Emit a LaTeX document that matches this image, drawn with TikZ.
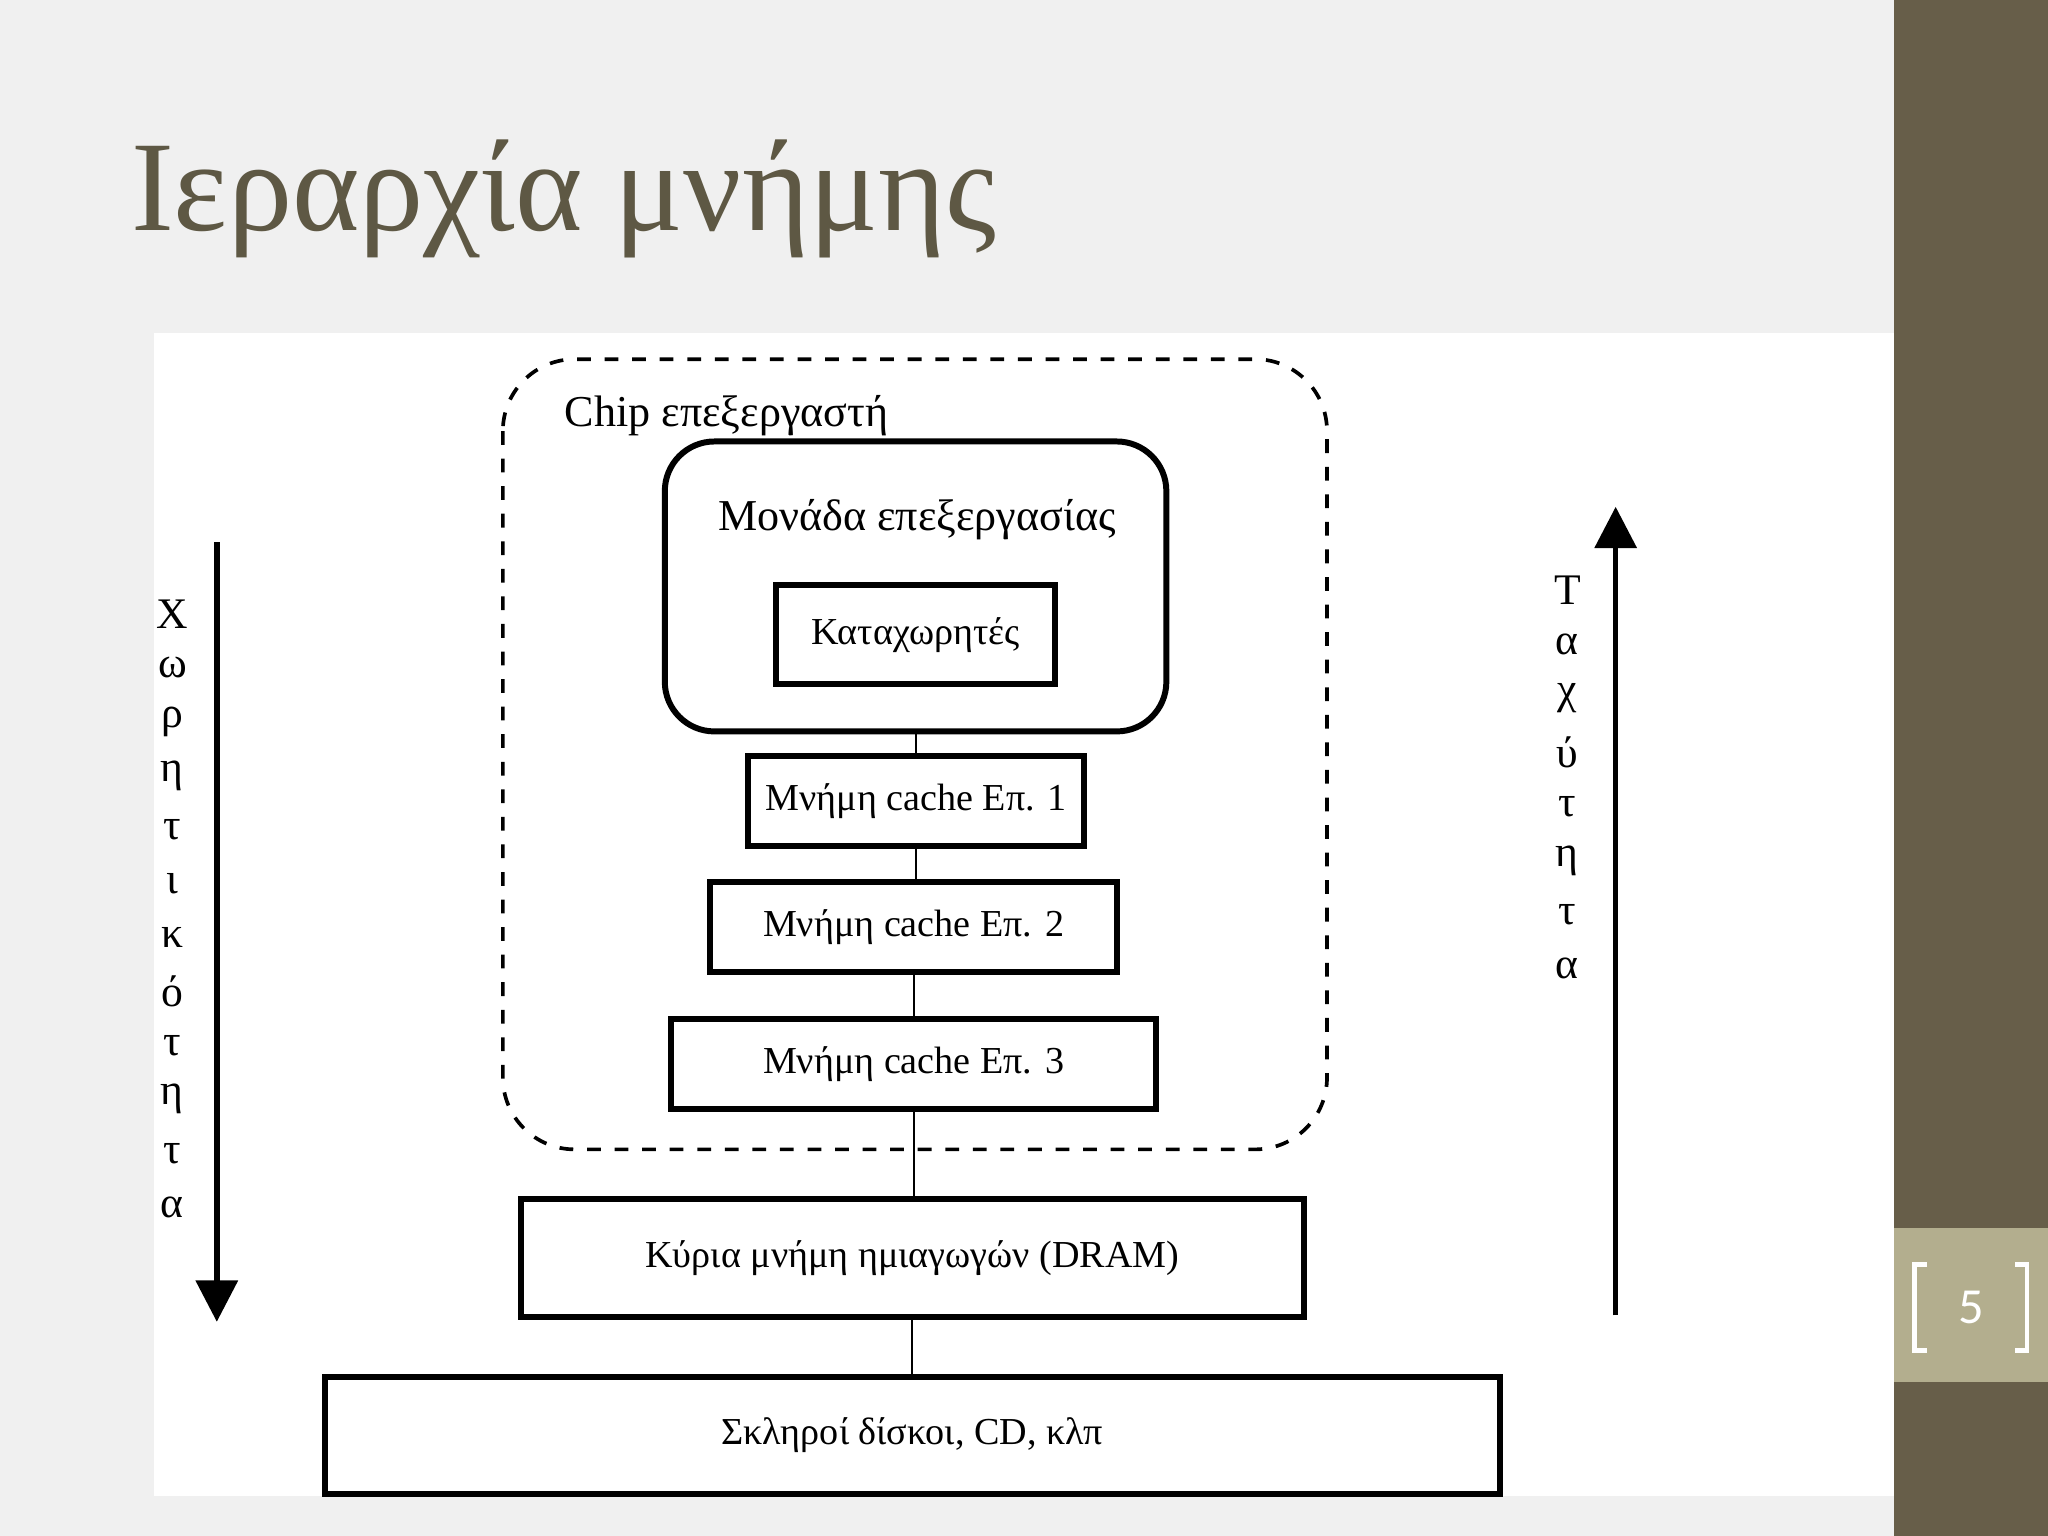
\documentclass[tikz,border=0pt]{standalone}
\usepackage{fontspec}
\setmainfont{Liberation Serif}
\newfontfamily\numfont{Carlito}
\usetikzlibrary{arrows.meta}
\definecolor{bar}{HTML}{675E49}
\definecolor{numbox}{HTML}{B3AE8E}
\definecolor{titlec}{HTML}{5E5844}
\begin{document}
\begin{tikzpicture}[x=0.01cm,y=-0.01cm,
  bx/.style={draw,line width=1.3pt,font=\fontsize{8.3}{10}\selectfont},
  lbl/.style={font=\fontsize{9.5}{11}\selectfont,anchor=center,inner sep=0pt}]
\useasboundingbox (0,0) rectangle (1568,1176);
\fill[gray!12] (0,0) rectangle (1450,1176);
\fill[white] (118,255) rectangle (1450,1145);
\fill[bar] (1450,0) rectangle (1568,1176);
\fill[numbox] (1450,940) rectangle (1568,1058);
\node[white,font=\numfont\fontsize{11}{13}\selectfont] (pn) at (1509,1001) {5};
\draw[white,line width=1pt] (1475,968) -- (1466,968) -- (1466,1034) -- (1475,1034);
\draw[white,line width=1pt] (1543,968) -- (1552,968) -- (1552,1034) -- (1543,1034);
\node[titlec,anchor=west,font=\fontsize{28}{33}\selectfont] (title) at (88,152) {Ιεραρχία μνήμης};
% chip
\draw[dashed,line width=0.8pt,rounded corners=0.55cm] (385,275) rectangle (1016,880);
\node[anchor=west,font=\fontsize{9.6}{12}\selectfont] (chip) at (420,318) {Chip επεξεργαστή};
\draw[line width=1.3pt,rounded corners=0.38cm] (509,338) rectangle (893,560);
\node[font=\fontsize{9.6}{12}\selectfont] (cpu) at (702,398) {Μονάδα επεξεργασίας};
\node[bx,minimum width=2.14cm,minimum height=0.76cm] (reg) at (701,486) {Καταχωρητές};
\node[bx,minimum width=2.57cm,minimum height=0.69cm] (c1) at (701.5,613.5) {Μνήμη cache Επ. 1};
\node[bx,minimum width=3.11cm,minimum height=0.69cm] (c2) at (699.5,709.5) {Μνήμη cache Επ. 2};
\node[bx,minimum width=3.71cm,minimum height=0.69cm] (c3) at (699.5,814.5) {Μνήμη cache Επ. 3};
\node[bx,minimum width=5.99cm,minimum height=0.90cm] (dram) at (698.5,963) {Κύρια μνήμη ημιαγωγών (DRAM)};
\node[bx,minimum width=8.99cm,minimum height=0.90cm] (disk) at (698.5,1099) {Σκληροί δίσκοι, CD, κλπ};
\coordinate (cpub) at (701,560);
\draw (cpub) -- (cpub |- c1.north);
\draw (c1.south) -- (c1.south |- c2.north);
\draw (c2.south) -- (c2.south |- c3.north);
\draw (c3.south) -- (c3.south |- dram.north);
\draw (dram.south) -- (dram.south |- disk.north);
% arrows
\coordinate (la) at (166,415); \coordinate (lb) at (166,1012);
\draw[line width=1.2pt,-{Triangle[length=9pt,width=9pt]}] (la) -- (lb);
\coordinate (ra) at (1237,1007); \coordinate (rb) at (1237,388);
\draw[line width=1.2pt,-{Triangle[length=9pt,width=9pt]}] (ra) -- (rb);
\foreach \c [count=\i from 0] in {Χ,ω,ρ,η,τ,ι,κ,ό,τ,η,τ,α}
  \node[lbl] (l\i) at (132,470+41.3*\i) {\c};
\foreach \c [count=\i from 0] in {Τ,α,χ,ύ,τ,η,τ,α}
  \node[lbl] (r\i) at (1200,452+41.4*\i) {\c};
\end{tikzpicture}
\end{document}
